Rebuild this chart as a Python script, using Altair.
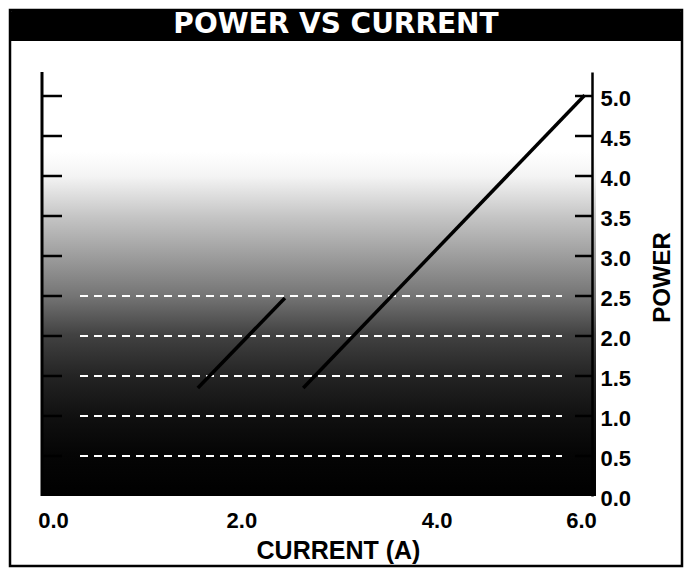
import altair as alt
import pandas as pd

# ---- data -------------------------------------------------------------
chart_title = "POWER VS CURRENT"
x_title = "CURRENT (A)"
y_title = "POWER"

x_tick_values = [0.0, 2.0, 4.0, 6.0]
y_tick_values = [0.0, 0.5, 1.0, 1.5, 2.0, 2.5, 3.0, 3.5, 4.0, 4.5, 5.0]
grid_levels = [0.5, 1.0, 1.5, 2.0, 2.5]

x_domain = [0.0, 6.0]
y_domain = [0.0, 5.3]

line_a_current = [1.70, 2.65]
line_a_power = [1.35, 2.475]
line_b_current = [2.85, 5.92]
line_b_power = [1.35, 5.01]

shade_bottom = 0.0
shade_top = 4.3

# ---- tables -----------------------------------------------------------
lines_df = pd.DataFrame({
    "series": ["A"] * len(line_a_current) + ["B"] * len(line_b_current),
    "current": line_a_current + line_b_current,
    "power": line_a_power + line_b_power,
})
ticks_df = pd.DataFrame({"v": y_tick_values[1:]})
grid_df = pd.DataFrame({"level": grid_levels})
shade_df = pd.DataFrame({"y0": [shade_bottom], "y1": [shade_top]})
spine_df = pd.DataFrame({"y0": [y_domain[0]], "y1": [y_domain[1]]})
title_df = pd.DataFrame({"t": [chart_title]})

W, H = 550, 424
TOTAL_H = 560
xscale = alt.Scale(domain=x_domain, nice=False, zero=False)
yscale = alt.Scale(domain=y_domain, nice=False, zero=False)

FONT = "Liberation Sans"

x_axis = alt.Axis(
    values=x_tick_values, format=".1f", domain=False, ticks=False, tickSize=0,
    grid=False, labelFont=FONT, labelFontSize=22, labelFontWeight="bold",
    labelColor="black", labelPadding=24, labelBaseline="middle",
    labelFlush=False, labelOverlap=False,
    labelOffset={"condition": [
        {"test": "datum.value == 0", "value": 11},
        {"test": "datum.value == 2", "value": 16},
        {"test": "datum.value == 4", "value": 28},
        {"test": "datum.value == 6", "value": -11},
    ], "value": 0},
    title=x_title, titleFont=FONT, titleFontSize=25, titleFontWeight="bold",
    titleColor="black", titleX=296, titleY=54, titleBaseline="middle",
    titleAlign="center",
)

y_axis = alt.Axis(
    orient="right", values=y_tick_values, format=".1f", domain=True,
    domainColor="black", domainWidth=2.5, ticks=False, tickSize=0, grid=False,
    labelFont=FONT, labelFontSize=22, labelFontWeight="bold", labelColor="black",
    labelPadding=8, labelOffset=2, labelFlush=False, labelOverlap=False,
    title=y_title, titleFont=FONT, titleFontSize=24, titleFontWeight="bold",
    titleColor="black", titleAngle=270, titleX=70, titleY=205,
    titleBaseline="middle", titleAlign="center", zindex=1,
)

# ---- layers -----------------------------------------------------------
stops = [
    (0.00, "#ffffff"),
    (0.07, "#f4f4f4"),
    (0.19, "#c4c4c4"),
    (0.30, "#9e9e9e"),
    (0.42, "#747474"),
    (0.53, "#424242"),
    (0.65, "#242424"),
    (0.77, "#101010"),
    (0.88, "#050505"),
    (1.00, "#000000"),
]
shade = alt.Chart(shade_df).mark_rect(
    fill=alt.Gradient(
        gradient="linear",
        stops=[alt.GradientStop(offset=o, color=c) for o, c in stops],
        x1=0, x2=0, y1=0, y2=1,
    )
).encode(
    x=alt.value(1), x2=alt.value(W + 4),
    y=alt.Y("y0:Q", scale=yscale, axis=y_axis), y2="y1:Q",
)

grid = alt.Chart(grid_df).mark_rule(
    color="white", strokeWidth=2, strokeDash=[8, 6]
).encode(
    x=alt.value(38), x2=alt.value(520),
    y=alt.Y("level:Q", scale=yscale, axis=y_axis),
)

lines = alt.Chart(lines_df).mark_line(color="black", strokeWidth=3.5).encode(
    x=alt.X("current:Q", scale=xscale, axis=x_axis),
    y=alt.Y("power:Q", scale=yscale, axis=y_axis),
    detail="series:N",
)

left_ticks = alt.Chart(ticks_df).mark_rule(color="black", strokeWidth=2.5).encode(
    x=alt.value(0), x2=alt.value(20),
    y=alt.Y("v:Q", scale=yscale, axis=y_axis),
)
right_ticks = alt.Chart(ticks_df).mark_rule(color="black", strokeWidth=2.5).encode(
    x=alt.value(W - 17), x2=alt.value(W),
    y=alt.Y("v:Q", scale=yscale, axis=y_axis),
)
left_spine = alt.Chart(spine_df).mark_rule(color="black", strokeWidth=3).encode(
    x=alt.value(0),
    y=alt.Y("y0:Q", scale=yscale, axis=y_axis), y2="y1:Q",
)

frame = alt.Chart(title_df).mark_rect(
    fillOpacity=0, stroke="black", strokeWidth=2.5
).encode(
    x=alt.value(-32), x2=alt.value(640),
    y=alt.value(-62), y2=alt.value(TOTAL_H - 64 - 2),
)
title_bar = alt.Chart(title_df).mark_rect(
    color="black", cornerRadiusTopLeft=8, cornerRadiusTopRight=8
).encode(
    x=alt.value(-33), x2=alt.value(641), y=alt.value(-63), y2=alt.value(-31),
)
title_text = alt.Chart(title_df).mark_text(
    color="white", font="DejaVu Sans", fontSize=28, fontWeight="bold",
    baseline="middle", align="center",
).encode(
    x=alt.value(294), y=alt.value(-47), text="t:N",
)

chart = alt.layer(
    shade, grid, lines, left_ticks, right_ticks, left_spine,
    frame, title_bar, title_text,
).properties(
    width=W, height=H,
    autosize=alt.AutoSizeParams(type="none"),
    padding={"left": 34, "top": 64, "right": 92, "bottom": TOTAL_H - 64 - H},
    background="white",
).configure_view(stroke=None)

chart.save("out.html", embed_options={"renderer": "svg", "actions": False})
